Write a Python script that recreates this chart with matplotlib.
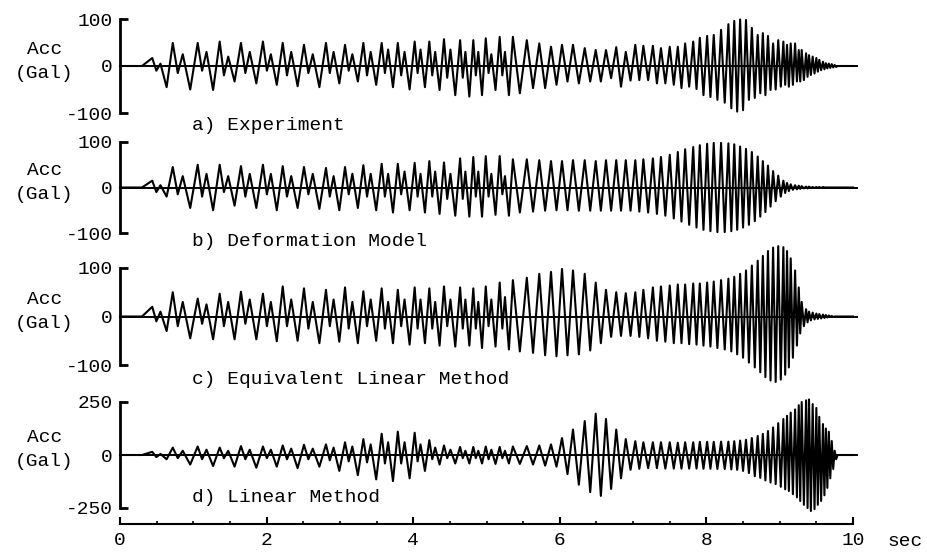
import numpy as np
import matplotlib
matplotlib.use("Agg")
import matplotlib.pyplot as plt

plt.rcParams['font.family'] = ['Liberation Mono', 'DejaVu Sans Mono']
plt.rcParams['axes.unicode_minus'] = False

# times (sec) of the positive peaks
peak_t = [0.44, 0.72, 1.06, 1.36, 1.65, 1.95, 2.22, 2.51,
          2.81, 3.07, 3.32, 3.57, 3.79, 4.02, 4.22, 4.42, 4.64,
          4.82, 4.99, 5.18, 5.36, 5.55, 5.72, 5.88, 6.03, 6.18, 6.34, 6.49, 6.63,
          6.77, 6.90, 7.03, 7.14, 7.27, 7.38, 7.50, 7.61,
          7.71, 7.82, 7.91, 8.01, 8.10, 8.20, 8.30, 8.38, 8.46, 8.54, 8.62, 8.70,
          8.77, 8.84, 8.91, 8.98, 9.05, 9.10, 9.15, 9.21, 9.26, 9.30, 9.36, 9.40,
          9.45, 9.50, 9.54, 9.59, 9.63, 9.67, 9.71, 9.75]

# a) Experiment (Gal): peak / trough of every cycle
exp_hi = [17, 49, 49, 52, 49, 52, 49, 45,
          49, 45, 49, 49, 49, 52, 52, 57, 55,
          55, 59, 62, 62, 55, 48, 41, 45, 45, 38, 34, 34, 40, 30, 45, 43, 43, 38, 41, 41,
          48, 52, 60, 64, 66, 77, 89, 96, 99, 98, 81, 66,
          70, 64, 48, 55, 52, 45, 48, 48, 34, 34, 27, 23, 20, 17, 13, 9, 6, 5, 4, 2]
exp_lo = [-45, -50, -51, -33, -37, -40, -43, -45,
          -37, -33, -40, -45, -50, -45, -51, -62, -65,
          -62, -51, -62, -58, -47, -47, -40, -33, -37, -33, -33, -26, -44, -31, -30, -30, -37, -37, -40, -47,
          -44, -49, -62, -66, -72, -78, -90, -97, -94, -72, -68, -58,
          -62, -51, -50, -44, -40, -44, -40, -33, -33, -30, -23, -19, -16, -12, -9, -7, -5, -4, -3, -2]
# secondary dip / bump inside the first 20 cycles
exp_dip = [-10, -15, -10, -20, -15, -10, -20, -15, -15, -10,
           -20, -15, -20, -15, -20, -25, -25, -20, -15, -20]
exp_bump = [5, 25, 30, 20, 30, 25, 30, 25, 30, 25,
            30, 35, 30, 35, 30, 35, 30, 30, 25, 30]

# b) Deformation Model
dfm_hi = [15, 45, 50, 50, 47, 50, 47, 45,
          43, 45, 49, 52, 52, 54, 58, 55, 64,
          67, 69, 69, 62, 62, 60, 58, 58, 60, 60, 58, 60, 60, 60, 60, 62, 64, 67, 72, 78,
          84, 89, 93, 96, 98, 98, 97, 95, 90, 85, 78, 68,
          58, 48, 36, 26, 15, 10, 7, 5, 4, 3, 2, 2, 1, 1, 1, 1, 0, 0, 0, 0]
dfm_lo = [-20, -45, -50, -40, -45, -50, -45, -47,
          -50, -45, -50, -55, -50, -55, -58, -62, -64,
          -64, -60, -62, -55, -53, -51, -50, -50, -51, -51, -51, -51, -51, -51, -53, -55, -58, -62, -68, -75,
          -82, -88, -93, -96, -98, -98, -96, -93, -88, -82, -74, -64,
          -54, -42, -30, -20, -12, -8, -5, -4, -3, -2, -2, -1, -1, -1, -1, 0, 0, 0, 0, 0]
dfm_dip = [-10, -15, -20, -10, -20, -15, -20, -15, -20, -15,
           -20, -20, -15, -20, -20, -25, -25, -20, -20, -15]
dfm_bump = [5, 25, 30, 25, 30, 30, 25, 30, 25, 30,
            30, 30, 35, 30, 35, 30, 35, 35, 30, 25]

# c) Equivalent Linear Method
eql_hi = [20, 50, 37, 47, 51, 47, 62, 58,
          55, 60, 52, 58, 55, 60, 58, 62, 60,
          58, 62, 70, 75, 80, 88, 92, 98, 95, 88, 70, 55, 50, 48, 50, 55, 60, 62, 64, 66,
          66, 68, 68, 70, 72, 75, 78, 82, 88, 95, 105, 115,
          125, 135, 142, 145, 143, 135, 120, 95, 60, 30, 15, 10, 8, 6, 5, 4, 3, 2, 1, 0]
eql_lo = [-30, -45, -47, -47, -47, -51, -50, -55,
          -52, -55, -50, -55, -58, -55, -60, -62, -60,
          -65, -62, -68, -72, -75, -80, -82, -80, -78, -70, -55, -42, -40, -40, -42, -45, -50, -52, -55, -55,
          -57, -58, -60, -62, -65, -68, -72, -78, -85, -95, -105, -115,
          -125, -132, -135, -130, -120, -105, -85, -60, -35, -20, -12, -8, -6, -5, -4, -3, -2, -1, -1, 0]
eql_dip = [-10, -20, -15, -20, -15, -20, -20, -25, -20, -25,
           -20, -25, -20, -25, -25, -20, -25, -25, -20, -25]
eql_bump = [10, 30, 25, 30, 35, 30, 35, 30, 35, 30,
            35, 30, 35, 35, 30, 35, 35, 30, 35, 40]

# d) Linear Method
lin_hi = [15, 35, 40, 35, 42, 40, 45, 48,
          50, 60, 75, 100, 110, 105, 70, 45, 38,
          38, 40, 38, 40, 42, 45, 50, 80, 120, 160, 195, 170, 120, 75, 65, 60, 60, 60, 60, 58,
          60, 60, 62, 62, 62, 63, 63, 65, 68, 72, 80, 90,
          100, 113, 130, 150, 170, 185, 200, 215, 235, 250, 258, 262, 240, 222, 180, 146, 125, 110, 66, 20]
lin_lo = [-20, -45, -52, -55, -60, -55, -62, -55,
          -75, -95, -115, -123, -110, -75, -45, -40, -40,
          -40, -42, -40, -42, -45, -50, -55, -90, -140, -175, -193, -160, -110, -70, -65, -62, -62, -64, -64, -64,
          -64, -64, -65, -65, -66, -66, -68, -70, -75, -85, -100, -108,
          -120, -130, -137, -150, -162, -170, -185, -200, -217, -235, -250, -264, -255, -235, -217, -190, -155, -110, -66, -20]
lin_dip = [-10, -15, -20, -15, -20, -15, -20, -20, -25, -30,
           -35, -40, -40, -30, -20, -15, -15, -15, -20, -15]
lin_bump = [5, 20, 25, 20, 25, 25, 30, 30, 35, 40,
            50, 60, 60, 50, 35, 25, 20, 20, 25, 20]

panels = [
    ("a) Experiment", exp_hi, exp_lo, exp_dip, exp_bump, 100),
    ("b) Deformation Model", dfm_hi, dfm_lo, dfm_dip, dfm_bump, 100),
    ("c) Equivalent Linear Method", eql_hi, eql_lo, eql_dip, eql_bump, 100),
    ("d) Linear Method", lin_hi, lin_lo, lin_dip, lin_bump, 250),
]
# pixel rows of (+lim, -lim) for each panel, label rows
rows = [(19, 113), (142, 233), (268, 365), (402, 508)]
label_y = [125, 242, 380, 498]

W, H = 927, 553
fig = plt.figure(figsize=(W / 100, H / 100), dpi=100)

pt = np.array(peak_t)
gap = np.append(np.diff(pt), 0.04)


def build_trace(hi, lo, dip, bump):
    ts, vs = [0.0, 0.30], [0.0, 0.0]
    for k in range(len(pt)):
        ts.append(pt[k]); vs.append(hi[k])
        if k < len(dip):
            ts += [pt[k] + 0.2 * gap[k], pt[k] + 0.4 * gap[k]]
            vs += [dip[k], bump[k]]
            ts.append(pt[k] + 0.7 * gap[k]); vs.append(lo[k])
        else:
            ts.append(pt[k] + 0.5 * gap[k]); vs.append(lo[k])
    ts += [pt[-1] + gap[-1], 10.0]
    vs += [0.0, 0.0]
    return ts, vs


for i, (name, hi, lo, dip, bump, lim) in enumerate(panels):
    top, bot = rows[i]
    ax = fig.add_axes([120 / W, 1 - bot / H, 733 / W, (bot - top) / H])
    t, v = build_trace(hi, lo, dip, bump)
    ax.plot([0, 10.05], [0, 0], color='k', lw=1.4, clip_on=False)
    ax.plot(t, v, color='k', lw=1.5, clip_on=False)
    ax.set_xlim(0, 10)
    ax.set_ylim(-lim, lim)
    for s in ['top', 'right', 'bottom']:
        ax.spines[s].set_visible(False)
    ax.spines['left'].set_linewidth(2)
    ax.set_yticks([-lim, 0, lim])
    ax.set_yticklabels(['-%d' % lim, '0', '%d' % lim])
    ax.tick_params(axis='y', direction='in', length=6, width=2, pad=5, labelsize=14)
    ax.yaxis.get_major_ticks()[1].tick1line.set_visible(False)
    zero_y = (top + bot) / 2
    fig.text(45 / W, 1 - (zero_y - 17) / H, "Acc", ha='center', va='center', fontsize=14)
    fig.text(44 / W, 1 - (zero_y + 7) / H, "(Gal)", ha='center', va='center', fontsize=14)
    fig.text(192 / W, 1 - label_y[i] / H, name, ha='left', va='center', fontsize=14)

    if i < 3:
        ax.xaxis.set_visible(False)
    else:
        ax.spines['bottom'].set_visible(True)
        ax.spines['bottom'].set_position(('outward', 11.5))
        ax.spines['bottom'].set_linewidth(1.5)
        ax.set_xticks([0, 2, 4, 6, 8, 10])
        ax.set_xticks(np.arange(0, 10.01, 0.5), minor=True)
        ax.tick_params(axis='x', which='major', direction='in', length=5, width=1.5,
                       pad=6, labelsize=14)
        ax.tick_params(axis='x', which='minor', direction='in', length=2.5, width=1.2)

fig.text(905 / W, 1 - 542 / H, "sec", ha='center', va='center', fontsize=14)

fig.savefig("out.png", dpi=100)
